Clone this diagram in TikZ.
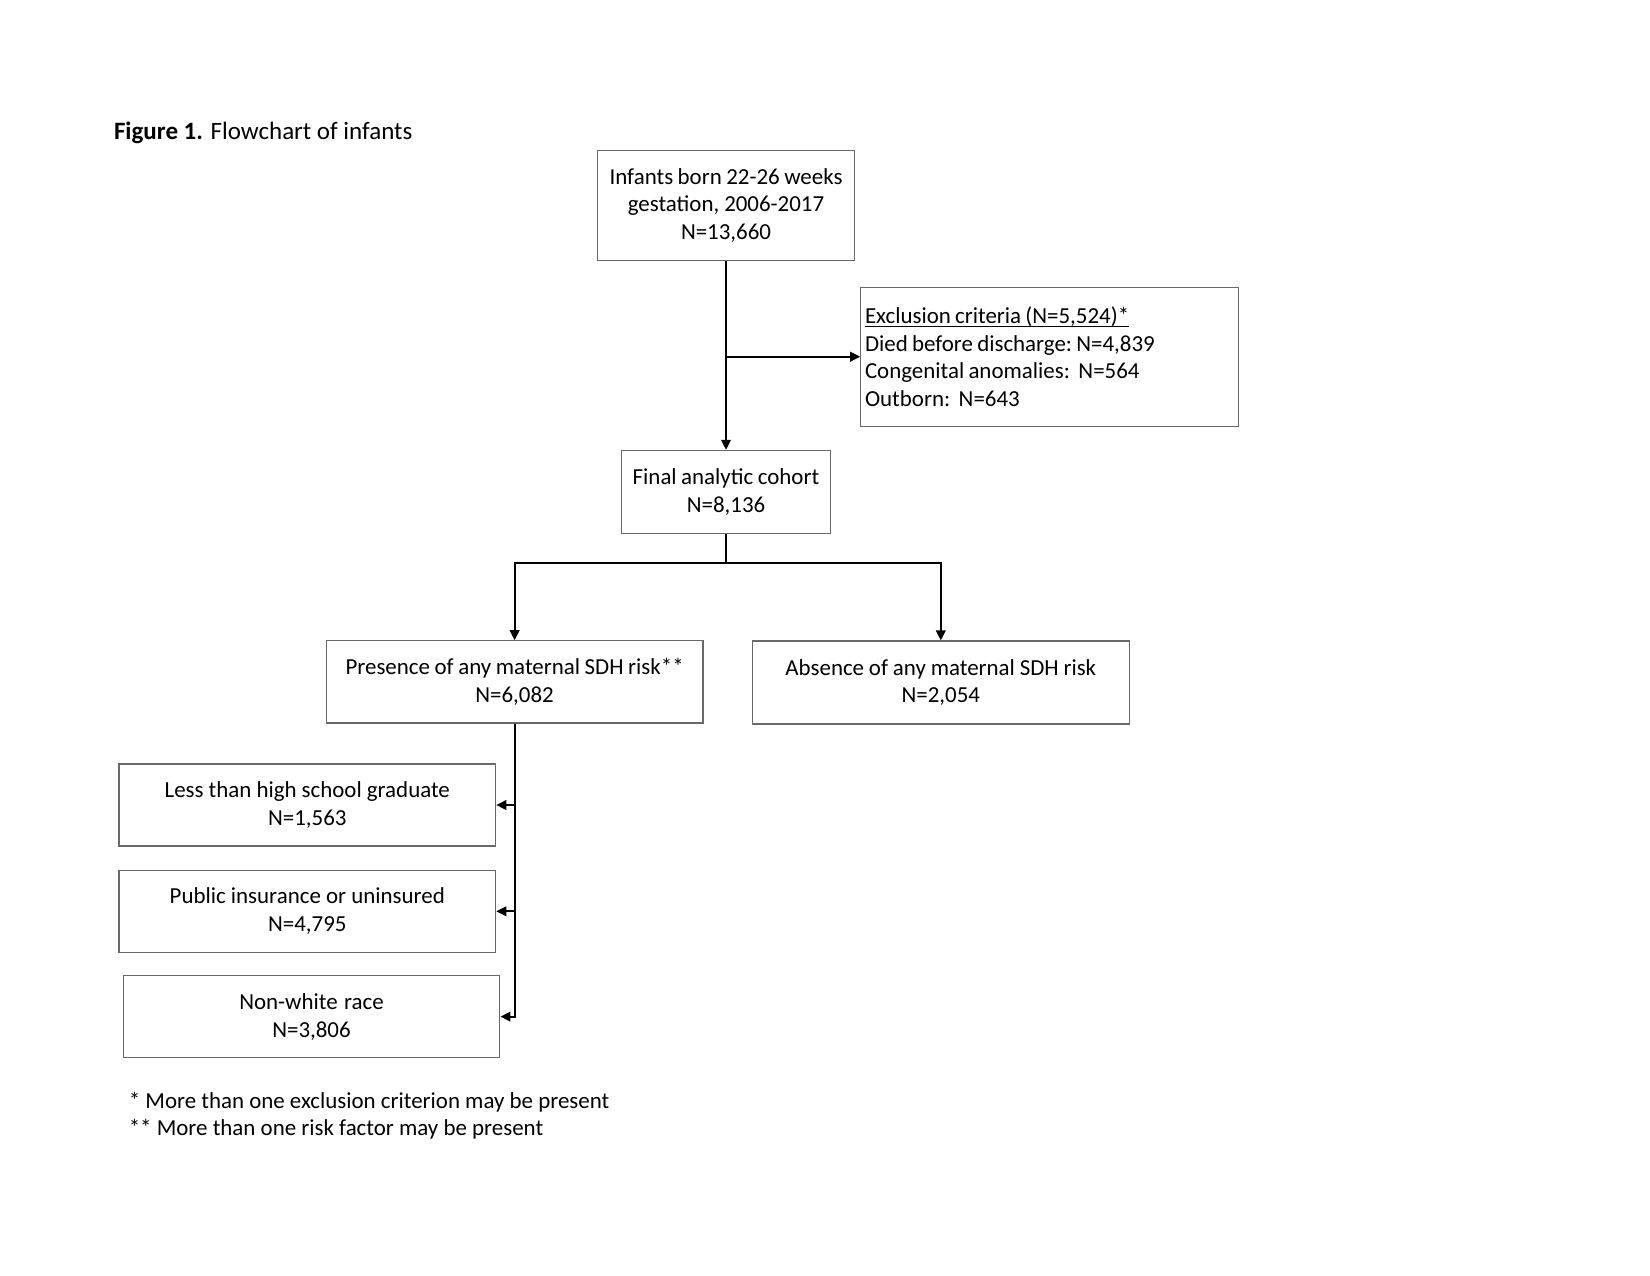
\documentclass[tikz,border=0pt]{standalone}
\usepackage{fontspec}
\setmainfont{Carlito}
\usetikzlibrary{arrows.meta,calc}
\definecolor{boxgray}{RGB}{105,105,105}
\newcommand\ulsmash[1]{\underline{\smash{#1}}\vphantom{#1}}
\newcommand\boxsp{\spaceskip=2.05pt plus 0.4pt minus 0.2pt\relax\xspaceskip=2.05pt plus 0.4pt minus 0.2pt\relax}
\newcommand\dsp{\hspace{4.1pt}}
\tikzset{
  fbox/.style={draw=boxgray, line width=0.6pt, rectangle, inner sep=0pt, align=center,
    font=\fontsize{11}{13.4}\selectfont, execute at begin node=\boxsp},
  conn/.style={draw=black, line width=0.9pt},
  arr/.style={conn, -{Triangle[length=4.8pt,width=4.6pt]}},
  plain/.style={inner sep=0pt, font=\fontsize{11}{13.4}\selectfont}
}
\begin{document}
\begin{tikzpicture}[x=0.48pt, y=-0.48pt]
\useasboundingbox (0,0) rectangle (1650,1275);
\node[plain, anchor=base west, font=\fontsize{12}{14}\selectfont] (title) at (113.6,139.5) {\textbf{Figure 1.} Flowchart of infants};

\node[fbox, text width=123.3pt, minimum height=53pt] (b1) at (726,205.5)
  {Infants born 22-26 weeks\\ gestation, 2006-2017\\ N=13,660};
\node[fbox, text width=177.3pt, inner xsep=2pt, minimum height=66.7pt, align=left] (excl) at (1049.7,356.7)
  {\ulsmash{Exclusion criteria (N=5,524)*}\\ Died before discharge: N=4,839\\ Congenital anomalies:\dsp N=564\\ Outborn:\dsp N=643};
\node[fbox, text width=100pt, minimum height=39.9pt] (final) at (726,492)
  {Final analytic cohort\\ N=8,136};
\node[fbox, text width=180.9pt, minimum height=39.4pt] (pres) at (514.6,681.9)
  {Presence of any maternal SDH risk**\\ N=6,082};
\node[fbox, text width=180.8pt, minimum height=39.8pt] (abs) at (940.8,682.5)
  {Absence of any maternal SDH risk\\ N=2,054};
\node[fbox, text width=180.8pt, minimum height=39.4pt] (less) at (307.3,805)
  {Less than high school graduate\\ N=1,563};
\node[fbox, text width=180.8pt, minimum height=39.4pt] (pub) at (307.3,911.3)
  {Public insurance or uninsured\\ N=4,795};
\node[fbox, text width=180.8pt, minimum height=39.4pt] (nw) at (311.5,1016.6)
  {Non-white race\\ N=3,806};

\node[plain, anchor=base west] (fn1) at (128.4,1108) {* More than one exclusion criterion may be present};
\node[plain, anchor=base west] (fn2) at (128.4,1135) {** More than one risk factor may be present};

\draw[arr] (b1.south) -- (final.north);
\draw[arr] (b1.south |- excl.west) -- (excl.west);
\coordinate (split) at ($(final.south)+(0,28.5)$);
\draw[conn] (final.south) -- (split);
\draw[arr] (split) -| (pres.north);
\draw[arr] (split) -| (abs.north);
\draw[arr] (pres.south) |- (nw.east);
\draw[arr] (pres.south |- less.east) -- (less.east);
\draw[arr] (pres.south |- pub.east) -- (pub.east);
\end{tikzpicture}
\end{document}
